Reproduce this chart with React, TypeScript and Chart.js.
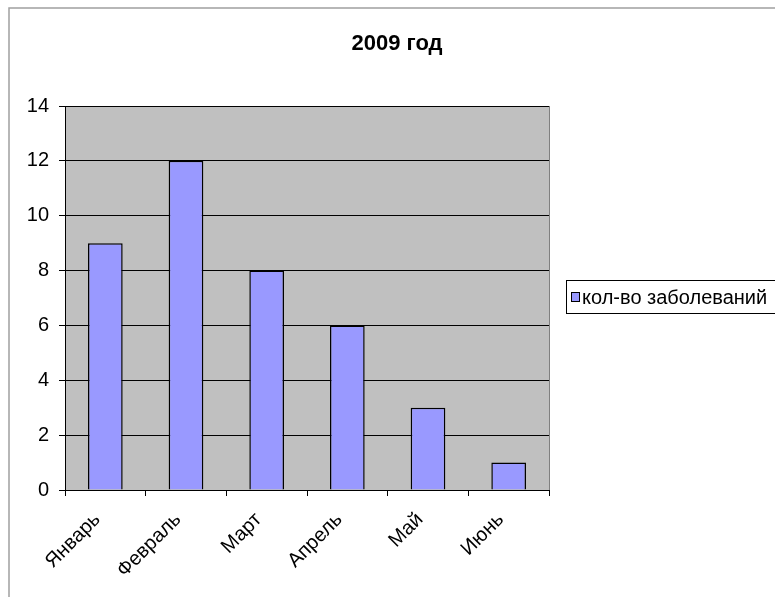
import React, { useEffect, useRef } from "react";
import { Chart, registerables } from "chart.js";

Chart.register(...registerables);

const categories = ["Январь", "Февраль", "Март", "Апрель", "Май", "Июнь"];
const values = [9, 12, 8, 6, 3, 1];
const seriesLabel = "кол-во заболеваний";
const titleText = "2009 год";
const yMin = 0;
const yMax = 14;
const yStep = 2;

const FONT = "'Liberation Sans', Arial, sans-serif";

const decorPlugin = {
  id: "decor",
  beforeDraw(chart: any) {
    const { ctx, chartArea } = chart;
    ctx.save();
    ctx.fillStyle = "#ffffff";
    ctx.fillRect(0, 0, chart.width, chart.height);
    // outer border
    ctx.strokeStyle = "#a0a0a0";
    ctx.lineWidth = 1.5;
    ctx.strokeRect(9, 8, chart.width + 10, chart.height + 10);
    // plot background
    ctx.fillStyle = "#c0c0c0";
    ctx.fillRect(chartArea.left, chartArea.top, chartArea.right - chartArea.left, chartArea.bottom - chartArea.top);
    ctx.strokeStyle = "#808080";
    ctx.lineWidth = 1;
    ctx.beginPath();
    ctx.moveTo(chartArea.right + 0.5, chartArea.top);
    ctx.lineTo(chartArea.right + 0.5, chartArea.bottom);
    ctx.stroke();
    ctx.restore();
  },
  afterDraw(chart: any) {
    const { ctx } = chart;
    ctx.save();
    // title
    ctx.fillStyle = "#000";
    ctx.font = `bold 22px ${FONT}`;
    ctx.textAlign = "center";
    ctx.textBaseline = "middle";
    ctx.fillText(titleText, 397, 44);
    // legend
    ctx.strokeStyle = "#000";
    ctx.lineWidth = 1;
    ctx.fillStyle = "#fff";
    ctx.fillRect(566.5, 280.5, 230, 33);
    ctx.strokeRect(566.5, 280.5, 230, 33);
    const ds = chart.data.datasets[0];
    ctx.fillStyle = ds.backgroundColor;
    ctx.fillRect(571.5, 292.5, 8, 9);
    ctx.strokeRect(571.5, 292.5, 8, 9);
    ctx.fillStyle = "#000";
    ctx.font = `20px ${FONT}`;
    ctx.textAlign = "left";
    ctx.textBaseline = "middle";
    ctx.fillText(ds.label, 582, 298);
    ctx.restore();
  },
};

export default function App() {
  const ref = useRef<HTMLCanvasElement>(null);
  useEffect(() => {
    if (!ref.current) return;
    const chart = new Chart(ref.current, {
      type: "bar",
      data: {
        labels: categories,
        datasets: [
          {
            label: seriesLabel,
            data: values,
            backgroundColor: "#9999ff",
            borderColor: "#000000",
            borderWidth: 1.5,
            categoryPercentage: 1,
            barPercentage: 0.43,
          },
        ],
      },
      options: {
        animation: false,
        responsive: false,
        devicePixelRatio: 1,
        layout: { padding: { left: 8, right: 226, top: 106, bottom: 0 } },
        plugins: {
          legend: { display: false },
          title: { display: false },
          tooltip: { enabled: false },
        },
        scales: {
          x: {
            grid: {
              offset: true,
              drawOnChartArea: false,
              drawTicks: true,
              tickLength: 6,
              color: "#000",
            },
            border: { display: true, color: "#000", width: 1 },
            ticks: {
              color: "#000",
              font: { family: FONT, size: 20 },
              maxRotation: 45,
              minRotation: 45,
              padding: 12,
              labelOffset: -8,
            },
            afterFit(scale: any) {
              scale.height = 107;
            },
          },
          y: {
            min: yMin,
            max: yMax,
            grid: {
              color: "#000",
              drawTicks: true,
              tickLength: 6,
            },
            border: { display: true, color: "#000", width: 1 },
            ticks: {
              stepSize: yStep,
              color: "#000",
              font: { family: FONT, size: 20 },
              padding: 10,
            },
            afterFit(scale: any) {
              scale.width = 57;
            },
          },
        },
      },
      plugins: [decorPlugin],
    });
    return () => chart.destroy();
  }, []);
  return (
    <div style={{ position: "absolute", left: 0, top: 0, width: 775, height: 597 }}>
      <canvas ref={ref} width={775} height={597} style={{ width: 775, height: 597 }} />
    </div>
  );
}
